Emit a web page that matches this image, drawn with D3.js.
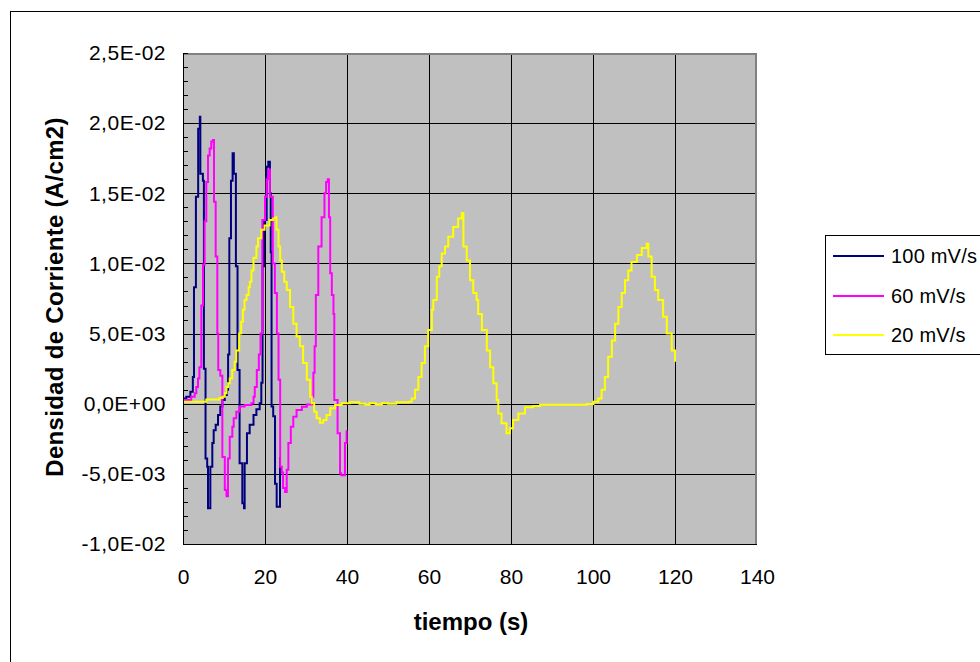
<!DOCTYPE html>
<html>
<head>
<meta charset="utf-8">
<script src="https://cdn.jsdelivr.net/npm/d3@7"></script>
<style>
  html, body { margin: 0; padding: 0; background: #fff; }
  svg { display: block; }
  text { font-family: "Liberation Sans", Arial, sans-serif; fill: #000; }
</style>
</head>
<body>
<svg id="chart" width="980" height="662"></svg>
<script>
// ---- data (time in s, current density in mA/cm2; plotted in A/cm2) ----
const t100 = [0, 0.8, 1.8, 2.4, 2.68, 3.15, 3.7, 4.1, 4.23, 4.85, 5.1, 5.5, 5.9, 6.1, 6.67, 7.15, 7.48, 7.97, 8.54, 9.1, 9.6, 10.2,
  10.7, 11.0, 11.3, 11.7, 12.1, 12.4, 12.9, 13.3, 13.8, 14.47, 14.88, 15.04, 15.6, 16.26, 17.2, 17.9, 18.7,
  19.1, 19.4, 19.76, 20.4, 20.8, 21.2, 21.4, 21.6, 22.0, 22.44, 22.85, 23.66];
const j100 = [0.38, 0.5, 0.86, 1.9, 8.3, 14.75, 19.6, 20.45, 16.4, 15.9, 2.5, -3.9, -4.5, -7.45, -4.5, -2.8, -1.9, -1.5, -0.8, -0.2, 0.26, 0.62,
  1.0, 3.5, 11.8, 15.9, 17.85, 16.4, 9.8, 2.4, -4.25, -7.1, -7.45, -4.25, -2.1, -1.5, -0.8, -0.4, 0.03,
  1.5, 9.8, 13.1, 16.9, 17.25, 15.0, 10.8, -0.2, -0.9, -5.7, -7.35, -3.8];

const t60 = [0, 2.0, 2.85, 3.25, 3.66, 4.0, 4.47, 4.88, 5.28, 5.69, 6.1, 6.5, 6.9, 7.3, 7.56, 7.97, 8.37, 8.6, 9.1, 9.6, 10.2, 10.6,
  10.98, 11.4, 12.03, 12.36, 13.0, 13.8, 15.04, 16.67, 17.2, 17.5, 18.0, 18.5, 18.9, 19.35, 20.0, 20.4, 20.8, 21.2, 21.9,
  22.4, 22.9, 23.3, 23.7, 24.1, 24.4, 24.9, 25.3, 25.7, 26.3, 26.9, 27.7, 29.0, 30.2, 31.4, 31.8, 32.1, 32.4, 33.0, 33.8,
  34.5, 34.9, 35.3, 35.6, 35.9, 36.3, 36.7, 36.9, 37.7, 38.3, 38.6, 39.5, 39.9];
const j60 = [0.26, 0.5, 0.74, 1.2, 1.8, 2.6, 7.0, 9.9, 13.0, 15.8, 17.7, 18.2, 18.7, 18.8, 14.4, 10.5, 5.0, 2.4, 2.0, -3.8, -6.15, -6.6,
  -3.9, -2.35, -1.64, -1.04, -0.57, -0.2, -0.09, 0.03, 0.5, 1.2, 2.4, 3.5, 5.0, 13.1, 14.75, 16.0, 16.7, 14.75, 10.0,
  7.9, 5.0, 1.7, -4.5, -4.9, -6.0, -6.3, -4.7, -2.8, -1.64, -0.93, -0.45, -0.21, -0.05, 0.5, 2.2, 4.1, 7.75, 11.2, 13.3,
  15.0, 15.8, 16.0, 13.3, 9.3, 7.75, 6.4, 0.26, -2.1, -4.95, -5.1, -2.8, -1.9];

const t20 = [0, 5.7, 8.9, 9.6, 10.2, 10.6, 11.0, 11.4, 12.0, 12.6, 13.0, 13.7, 14.2, 14.6, 15.0, 15.5, 16.0, 16.3, 16.7, 17.2, 17.9,
  18.3, 19.1, 19.9, 21.1, 22.0, 22.6, 22.8, 23.3, 23.7, 24.1, 24.7, 25.3, 26.1, 26.9, 27.7, 28.5, 29.3, 30.2, 31.0, 31.4,
  32.0, 32.6, 33.4, 34.2, 35.0, 35.9, 37.1, 38.7, 40.7, 43.0, 44.5, 45.5, 47.0, 48.5, 50.0, 52.0, 55.0,
  55.8, 56.6, 57.4, 58.2, 59.0, 59.8, 60.7, 61.05, 61.9, 62.5, 63.1, 63.9, 64.7, 65.9, 67.1, 68.0, 68.4, 69.2, 70.0,
  70.8, 71.6, 72.0, 72.9, 74.1, 74.9, 75.7, 76.5, 76.9, 77.7, 78.9, 79.7, 80.5, 81.8, 83.4, 85.4, 87.1, 93.6, 98.5,
  100.1, 101.3, 102.1, 102.9, 103.7, 104.6, 105.4, 106.2, 107.0, 107.8, 108.6, 109.4, 110.7, 111.9, 113.1, 113.5,
  114.3, 115.1, 115.9, 117.1, 118.0, 119.2, 120.0];
const j20 = [0.14, 0.3, 0.4, 0.5, 0.74, 1.2, 1.45, 1.8, 2.4, 3.0, 3.8, 5.0, 5.85, 6.7, 7.4, 7.75, 8.3, 8.7, 9.5, 10.4, 11.2,
  11.8, 12.4, 12.7, 13.1, 13.2, 13.3, 12.4, 11.2, 10.2, 9.4, 8.7, 8.1, 6.9, 5.7, 4.8, 4.1, 2.9, 1.7, 0.5, 0.03,
  -0.57, -1.04, -1.35, -1.16, -0.8, -0.33, -0.09, 0.03, 0.1, 0.0, -0.07, 0.03, -0.05, 0.03, 0.0, 0.1, 0.14,
  0.38, 1.0, 1.9, 2.9, 4.1, 5.25, 6.7, 7.4, 9.05, 9.8, 10.7, 11.2, 11.9, 12.6, 13.2, 13.6, 11.2, 10.2, 8.8,
  7.9, 7.4, 6.4, 5.25, 3.8, 2.6, 1.45, 0.26, -0.7, -1.4, -2.1, -1.75, -1.16, -0.7, -0.26, -0.16, -0.07, -0.07, -0.02,
  0.14, 0.38, 1.0, 1.9, 3.35, 4.5, 5.7, 6.9, 7.9, 8.8, 9.5, 10.1, 10.6, 11.1, 11.4, 10.5,
  9.05, 8.1, 7.4, 6.2, 5.0, 3.8, 3.0];

const seriesNames = ["100 mV/s", "60 mV/s", "20 mV/s"];
const seriesColors = ["#000080", "#FF00FF", "#FFFF00"];
const xTicks = [0, 20, 40, 60, 80, 100, 120, 140];
const yTicks = [-0.01, -0.005, 0, 0.005, 0.01, 0.015, 0.02, 0.025];
const yMinorTicks = d3.range(-10, 26).map(k => k / 1000);
const xTitle = "tiempo (s)";
const yTitle = "Densidad de Corriente (A/cm2)";

// ---- layout ----
const svg = d3.select("#chart");
const P = { left: 183, right: 757, top: 53, bottom: 544 };
const x = d3.scaleLinear().domain([0, 140]).range([P.left, P.right]);
const y = d3.scaleLinear().domain([-0.01, 0.025]).range([P.bottom, P.top]);

// outer chart border
svg.append("rect").attr("x", 10.5).attr("y", 11.5).attr("width", 1000).attr("height", 700)
  .attr("fill", "#fff").attr("stroke", "#000").attr("stroke-width", 1);

// plot area
svg.append("rect").attr("x", P.left).attr("y", P.top)
  .attr("width", P.right - P.left).attr("height", P.bottom - P.top)
  .attr("fill", "#C0C0C0");

// gridlines
const grid = svg.append("g").attr("stroke", "#000").attr("stroke-width", 1);
grid.selectAll("line.v").data(xTicks.filter(d => d > 0 && d < 140)).join("line")
  .attr("x1", d => Math.round(x(d)) + 0.5).attr("x2", d => Math.round(x(d)) + 0.5)
  .attr("y1", P.top).attr("y2", P.bottom);
grid.selectAll("line.h").data(yTicks.filter(d => d > -0.01 && d < 0.025)).join("line")
  .attr("y1", d => Math.round(y(d)) + 0.5).attr("y2", d => Math.round(y(d)) + 0.5)
  .attr("x1", P.left).attr("x2", P.right);

// plot frame (grey top/right)
svg.append("path")
  .attr("d", `M${P.left},${P.top + 1}H${P.right - 1}V${P.bottom}`)
  .attr("fill", "none").attr("stroke", "#808080").attr("stroke-width", 2);

// series (drawn in series order, last on top)
const line = d3.line().x(d => x(d[0])).y(d => y(d[1])).curve(d3.curveStepAfter);
const toPts = (t, j) => t.map((tt, i) => [tt, j[i] / 1000]);
const data = [toPts(t100, j100), toPts(t60, j60), toPts(t20, j20)];
svg.append("clipPath").attr("id", "clip").append("rect")
  .attr("x", P.left).attr("y", P.top).attr("width", P.right - P.left).attr("height", P.bottom - P.top);
const gLines = svg.append("g").attr("clip-path", "url(#clip)");
[0, 1, 2].forEach(i => {
  gLines.append("path").datum(data[i]).attr("d", line)
    .attr("fill", "none").attr("stroke", seriesColors[i]).attr("stroke-width", 2)
    .attr("stroke-linejoin", "miter");
});

// axes lines
svg.append("line").attr("x1", P.left + 0.5).attr("x2", P.left + 0.5).attr("y1", P.top).attr("y2", P.bottom + 1)
  .attr("stroke", "#000").attr("stroke-width", 1);
svg.append("line").attr("x1", P.left).attr("x2", P.right).attr("y1", P.bottom + 0.5).attr("y2", P.bottom + 0.5)
  .attr("stroke", "#000").attr("stroke-width", 1);

// y minor ticks (inside)
svg.append("g").selectAll("line").data(yMinorTicks).join("line")
  .attr("x1", P.left).attr("x2", P.left + 5)
  .attr("y1", d => Math.round(y(d)) + 0.5).attr("y2", d => Math.round(y(d)) + 0.5)
  .attr("stroke", "#000").attr("stroke-width", 1);

// tick labels via d3 axes
const fmt = v => {
  const [m, e] = v.toExponential(1).split("e");
  const sign = e[0] === "-" ? "-" : "+";
  return m.replace(".", ",") + "E" + sign + String(Math.abs(+e)).padStart(2, "0");
};
const yAxis = svg.append("g").attr("transform", `translate(${P.left},0)`)
  .call(d3.axisLeft(y).tickValues(yTicks).tickFormat(fmt).tickSize(0).tickPadding(17));
const xAxis = svg.append("g").attr("transform", `translate(0,${P.bottom})`)
  .call(d3.axisBottom(x).tickValues(xTicks).tickFormat(d3.format("d")).tickSize(0).tickPadding(25));
[yAxis, xAxis].forEach(a => {
  a.select(".domain").remove();
  a.selectAll("text").attr("font-family", "'Liberation Sans', Arial, sans-serif")
    .attr("font-size", 21).attr("fill", "#000");
});
yAxis.selectAll("text").attr("letter-spacing", 0.5);

// axis titles
svg.append("text").attr("x", 471).attr("y", 630).attr("text-anchor", "middle")
  .attr("font-size", 24).attr("font-weight", "bold").text(xTitle);
svg.append("text").attr("transform", "translate(63,297) rotate(-90)").attr("text-anchor", "middle")
  .attr("font-size", 24).attr("font-weight", "bold").attr("letter-spacing", 0.3).text(yTitle);

// legend
const lg = svg.append("g");
lg.append("rect").attr("x", 825.5).attr("y", 235.5).attr("width", 200).attr("height", 119)
  .attr("fill", "#fff").attr("stroke", "#000").attr("stroke-width", 1);
const ly = [256, 296, 335];
seriesNames.forEach((n, i) => {
  lg.append("line").attr("x1", 833).attr("x2", 884).attr("y1", ly[i]).attr("y2", ly[i])
    .attr("stroke", seriesColors[i]).attr("stroke-width", 2);
  lg.append("text").attr("x", 891).attr("y", ly[i] + 6.5).attr("font-size", 20)
    .attr("letter-spacing", 0.2).text(n);
});
</script>
</body>
</html>
